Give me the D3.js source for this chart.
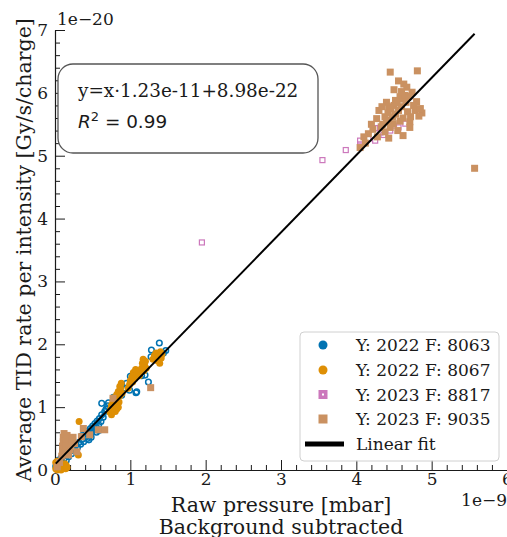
<!DOCTYPE html>
<html>
<head>
<meta charset="utf-8">
<script src="https://cdn.jsdelivr.net/npm/d3@7"></script>
<style>
  body { margin: 0; background: #fff; }
  svg text { font-family: "DejaVu Serif", serif; fill: #1a1a1a; }
</style>
</head>
<body>
<div id="chart"></div>
<script>
// Values are in plot units: x in 1e-9 mbar, y in 1e-20 Gy/s/charge
const X_EXP = -9;
const Y_EXP = -20;
const FIT_SLOPE = 1.23e-11;
const FIT_INTERCEPT = 8.98e-22;
const R2 = 0.99;

const xTicks = [0, 1, 2, 3, 4, 5, 6];
const yTicks = [0, 1, 2, 3, 4, 5, 6, 7];

const seriesNames = ["Y: 2022 F: 8063", "Y: 2022 F: 8067", "Y: 2023 F: 8817", "Y: 2023 F: 9035"];

const pts8063 = [
  [0.01,0.06],[0.02,0.10],[0.03,0.04],[0.04,0.13],[0.05,0.08],[0.06,0.16],[0.07,0.11],[0.08,0.19],
  [0.09,0.14],[0.10,0.22],[0.11,0.09],[0.12,0.18],[0.14,0.24],[0.15,0.15],[0.16,0.27],[0.18,0.21],
  [0.20,0.30],[0.22,0.26],[0.24,0.35],[0.26,0.32],[0.28,0.40],[0.30,0.36],[0.32,0.44],[0.34,0.41],
  [0.36,0.49],[0.38,0.45],[0.40,0.52],[0.41,0.58],[0.43,0.50],[0.44,0.62],[0.46,0.56],[0.47,0.66],
  [0.49,0.60],[0.50,0.70],[0.52,0.64],[0.53,0.74],[0.55,0.68],[0.56,0.78],[0.58,0.72],[0.59,0.82],
  [0.61,0.77],[0.62,0.88],[0.64,0.84],[0.66,0.93],[0.68,0.97],[0.70,1.02],[0.62,1.06],[0.71,1.07],
  [0.68,0.965],[0.775,1.155],[0.885,1.19],[0.885,1.35],[0.99,1.27],[1.00,1.49],[1.085,1.245],
  [1.075,1.23],[1.106,1.54],[1.195,1.51],[1.24,1.40],[1.275,1.80],[1.28,1.91],[1.385,2.02],
  [1.47,1.90],[1.44,1.86],[0.95,1.38],[0.93,1.30],[1.02,1.40],[1.15,1.50],[0.80,1.12],[0.48,0.52],
  [0.55,0.60],[0.58,0.63],[0.45,0.48],[0.36,0.55]
];

const pts8067 = [
  [0.01,0.02],[0.02,0.08],[0.03,0.00],[0.04,0.05],[0.05,0.11],[0.06,0.02],[0.07,0.07],[0.08,0.00],
  [0.09,0.04],[0.10,0.09],[0.11,0.03],[0.12,0.06],[0.13,0.10],[0.14,0.02],[0.15,0.07],[0.16,0.04],
  [0.03,0.14],[0.01,0.12],[0.32,0.77],[0.31,0.24],
  [0.73,0.92],[0.74,0.97],[0.75,1.03],[0.75,0.88],[0.76,0.94],[0.77,1.08],[0.78,0.98],[0.78,1.15],
  [0.79,1.02],[0.80,0.93],[0.80,1.10],[0.81,1.05],[0.82,1.20],[0.82,0.97],[0.83,1.12],[0.84,1.00],
  [0.84,1.25],[0.85,1.08],[0.86,1.18],[0.87,1.30],[0.88,1.38],[0.86,1.33],[0.89,1.22],
  [0.97,1.30],[0.99,1.36],[1.00,1.42],[1.02,1.48],[1.03,1.40],[1.04,1.55],[1.06,1.46],[1.07,1.60],
  [1.09,1.52],[1.11,1.58],[1.12,1.50],
  [1.15,1.62],[1.16,1.70],[1.17,1.76],[1.18,1.58],[1.19,1.66],[1.20,1.73],[1.21,1.62],
  [1.30,1.76],[1.32,1.82],[1.34,1.86],[1.36,1.74],[1.38,1.82],[1.39,1.70],[1.40,1.88],[1.41,1.78],
  [1.42,1.84]
];

const pts8817 = [
  [1.95,3.62],[3.55,4.93],[3.86,5.09],[4.05,5.18],[4.05,5.24],[4.16,5.27],[4.25,5.24],[4.36,5.33],
  [4.25,5.44],[4.56,5.45],[4.65,5.51],[4.45,5.40],[4.32,5.37],[4.50,5.48]
];

const pts9035 = [
  [0.09,0.22],[0.10,0.30],[0.10,0.38],[0.11,0.45],[0.11,0.52],[0.12,0.58],[0.13,0.27],[0.14,0.35],
  [0.14,0.42],[0.15,0.49],[0.16,0.55],[0.18,0.24],[0.20,0.32],[0.21,0.40],[0.22,0.47],[0.24,0.52],
  [0.26,0.42],[0.29,0.29],[0.35,0.53],[0.376,0.66],[0.46,0.56],[0.575,0.64],[0.66,0.64],[0.77,1.14],
  [1.27,1.31],[0.06,0.12],[0.03,0.05],
  [4.45,6.33],[4.81,6.35],[4.56,6.19],[4.63,6.14],[4.67,6.09],[4.74,6.01],[4.80,5.86],[4.58,5.94],
  [4.52,5.88],[4.30,5.72],[4.43,5.78],[4.78,5.72],[4.87,5.68],[4.83,5.63],[4.71,5.54],[4.71,5.45],
  [4.49,5.51],[4.40,5.56],[4.27,5.59],[4.16,5.35],[4.05,5.13],[4.43,5.28],[5.57,4.80],
  [4.35,5.50],[4.38,5.62],[4.42,5.68],[4.46,5.74],[4.50,5.80],[4.54,5.84],[4.48,5.62],[4.52,5.66],
  [4.56,5.72],[4.60,5.78],[4.62,5.90],[4.64,5.96],[4.66,5.85],[4.58,5.55],[4.62,5.60],[4.55,5.40],
  [4.45,5.45],[4.38,5.38],[4.33,5.46],[4.22,5.42],[4.28,5.30],[4.10,5.30],[4.20,5.50],[4.60,6.02],
  [4.70,5.95],[4.76,5.80],[4.85,5.75],[4.68,5.70],[4.50,6.05],[4.40,5.85],[4.34,5.78],[4.62,5.32],
  [4.72,5.62],[4.12,5.20]
];

const COLORS = ["#0173b2", "#de8f05", "#cc78bc", "#ca9161"];

const W = 507;
const H = 537;

const svg = d3.select("#chart").append("svg")
  .attr("width", W)
  .attr("height", H);

const x = d3.scaleLinear().domain([0, 6]).range([55, 507]);
const y = d3.scaleLinear().domain([0, 7]).range([470, 30]);

// minor ticks every 0.2
const xMinor = d3.range(0, 6.001, 0.2).filter(v => Math.abs(v - Math.round(v)) > 1e-6);
const yMinor = d3.range(0, 7.001, 0.2).filter(v => Math.abs(v - Math.round(v)) > 1e-6);

// Axes (ticks pointing inward)
const gxMinor = svg.append("g").attr("transform", "translate(0,470)")
  .call(d3.axisBottom(x).tickValues(xMinor).tickFormat("").tickSize(-5).tickSizeOuter(0));
gxMinor.select(".domain").remove();
const gyMinor = svg.append("g").attr("transform", "translate(55,0)")
  .call(d3.axisLeft(y).tickValues(yMinor).tickFormat("").tickSize(-5).tickSizeOuter(0));
gyMinor.select(".domain").remove();

const gx = svg.append("g").attr("transform", "translate(0,470)")
  .call(d3.axisBottom(x).tickValues(xTicks).tickFormat(d3.format("d")).tickSize(-10).tickSizeOuter(0).tickPadding(3));
const gy = svg.append("g").attr("transform", "translate(55,0)")
  .call(d3.axisLeft(y).tickValues(yTicks).tickFormat(d3.format("d")).tickSize(-10).tickSizeOuter(0).tickPadding(7));

svg.selectAll(".tick line").attr("stroke", "#1a1a1a");
svg.selectAll(".domain").attr("stroke", "#1a1a1a").attr("stroke-width", 1.2);
svg.selectAll(".tick text")
  .style("font-family", "'DejaVu Serif', serif")
  .style("font-size", "17px")
  .attr("fill", "#1a1a1a");

// offset texts
svg.append("text").attr("x", 57).attr("y", 25)
  .style("font-size", "17px").text("1e\u2212" + Math.abs(Y_EXP));
svg.append("text").attr("x", 507).attr("y", 506).attr("text-anchor", "end")
  .style("font-size", "17px").text("1e\u2212" + Math.abs(X_EXP));

// axis labels
svg.append("text").attr("x", 281).attr("y", 512).attr("text-anchor", "middle")
  .style("font-size", "20.5px").text("Raw pressure [mbar]");
svg.append("text").attr("x", 281).attr("y", 534).attr("text-anchor", "middle")
  .style("font-size", "20.5px").text("Background subtracted");
svg.append("text").attr("transform", "translate(31,250) rotate(-90)")
  .attr("text-anchor", "middle")
  .style("font-size", "20.5px").text("Average TID rate per intensity [Gy/s/charge]");

// points
const marks = svg.append("g");
function circles(data, color, hollow) {
  marks.append("g").selectAll("circle").data(data).enter().append("circle")
    .attr("cx", d => x(d[0]))
    .attr("cy", d => y(d[1]))
    .attr("r", hollow ? 2.8 : 3.5)
    .attr("fill", hollow ? "none" : color)
    .attr("stroke", hollow ? color : "none")
    .attr("stroke-width", hollow ? 1.5 : 0);
}
function squares(data, color, hollow) {
  const s = hollow ? 5 : 7;
  marks.append("g").selectAll("rect").data(data).enter().append("rect")
    .attr("x", d => x(d[0]) - s / 2)
    .attr("y", d => y(d[1]) - s / 2)
    .attr("width", s)
    .attr("height", s)
    .attr("fill", hollow ? "none" : color)
    .attr("stroke", hollow ? color : "none")
    .attr("stroke-width", hollow ? 1.2 : 0);
}
circles(pts8063, COLORS[0], true);
circles(pts8067, COLORS[1], false);
squares(pts8817, COLORS[2], true);
squares(pts9035, COLORS[3], false);

// linear fit (in plot units)
const slope = FIT_SLOPE * Math.pow(10, X_EXP) / Math.pow(10, Y_EXP);
const intercept = FIT_INTERCEPT / Math.pow(10, Y_EXP);
const allX = [].concat(pts8063, pts8067, pts8817, pts9035).map(d => d[0]);
const xExt = d3.extent(allX);
svg.append("path")
  .datum(xExt.map(v => [v, slope * v + intercept]))
  .attr("fill", "none")
  .attr("stroke", "#000")
  .attr("stroke-width", 2)
  .attr("d", d3.line().x(d => x(d[0])).y(d => y(d[1])));

// annotation box
const ann = svg.append("g");
ann.append("rect")
  .attr("x", 58).attr("y", 64).attr("width", 260).attr("height", 89).attr("rx", 15)
  .attr("fill", "#fff").attr("stroke", "#555").attr("stroke-width", 1.3);
ann.append("text").attr("x", 78).attr("y", 97).style("font-size", "18.4px")
  .text("y=x\u00b7" + "1.23e-11" + "+" + "8.98e-22");
const r2 = ann.append("text").attr("x", 78).attr("y", 128)
  .style("font-size", "18.4px").style("font-family", "'DejaVu Sans', sans-serif");
r2.append("tspan").style("font-style", "italic").text("R");
r2.append("tspan").attr("dy", -7).style("font-size", "13px").text("2");
r2.append("tspan").attr("dy", 7).text(" = " + R2.toFixed(2));

// legend
const lg = svg.append("g");
lg.append("rect")
  .attr("x", 300).attr("y", 332).attr("width", 199).attr("height", 129).attr("rx", 4)
  .attr("fill", "#fff").attr("fill-opacity", 0.8).attr("stroke", "#d0d0d0");
const rowY = [345, 370, 394.5, 419, 444];
const mx = 323;
lg.append("circle").attr("cx", mx).attr("cy", rowY[0]).attr("r", 4.5).attr("fill", COLORS[0]);
lg.append("circle").attr("cx", mx).attr("cy", rowY[1]).attr("r", 4.5).attr("fill", COLORS[1]);
lg.append("rect").attr("x", mx - 4.5).attr("y", rowY[2] - 4.5).attr("width", 9).attr("height", 9)
  .attr("fill", COLORS[2]);
lg.append("rect").attr("x", mx - 1).attr("y", rowY[2] - 1).attr("width", 2).attr("height", 2)
  .attr("fill", "#fff");
lg.append("rect").attr("x", mx - 4.5).attr("y", rowY[3] - 4.5).attr("width", 9).attr("height", 9)
  .attr("fill", COLORS[3]);
lg.append("line").attr("x1", 305).attr("x2", 344).attr("y1", rowY[4]).attr("y2", rowY[4])
  .attr("stroke", "#000").attr("stroke-width", 5);
seriesNames.concat(["Linear fit"]).forEach((t, i) => {
  lg.append("text").attr("x", 356).attr("y", rowY[i] + 6)
    .style("font-size", "17px").text(t);
});
</script>
</body>
</html>
